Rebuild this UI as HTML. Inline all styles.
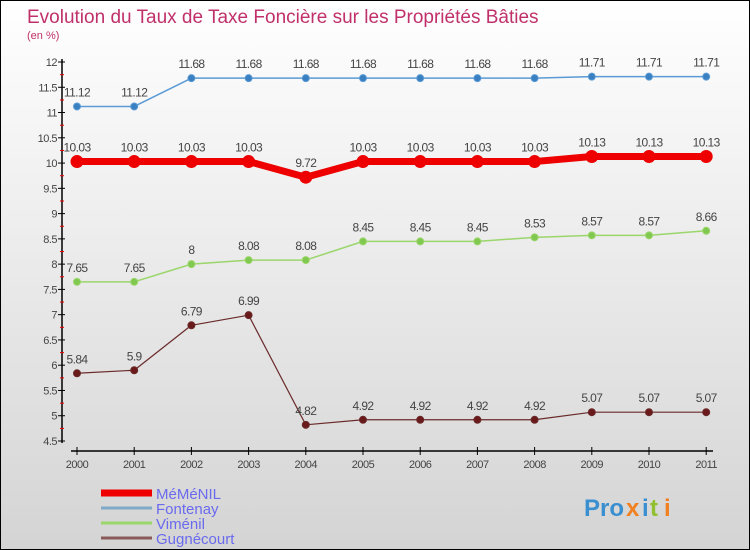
<!DOCTYPE html>
<html><head><meta charset="utf-8"><style>
body{margin:0}
#c{width:748px;height:548px;border:1px solid #000;background:linear-gradient(#fff,#d4d4d4);position:relative;font-family:"Liberation Sans",sans-serif;overflow:hidden}
</style></head><body>
<div id="c">
<svg id="s" width="748" height="548" xmlns="http://www.w3.org/2000/svg">
<text x="26" y="22" font-size="19" fill="#c0306a">Evolution du Taux de Taxe Foncière sur les Propriétés Bâties</text>
<text x="26" y="38" font-size="11" fill="#c0306a">(en %)</text>
<g id="g"></g>
<g font-size="24" font-weight="bold">
<text x="583" y="515" fill="#3a8fd0">Pro</text><text x="625" y="515" fill="#f08020">x</text><text x="641" y="515" fill="#3a8fd0">i</text><text x="649" y="515" fill="#90c030">t</text><text x="663" y="515" fill="#f08020">i</text>
</g>
</svg></div>
<script>
const years=["2000","2001","2002","2003","2004","2005","2006","2007","2008","2009","2010","2011"];
const yTicks=[4.5,5,5.5,6,6.5,7,7.5,8,8.5,9,9.5,10,10.5,11,11.5,12];
const memenil=[10.03,10.03,10.03,10.03,9.72,10.03,10.03,10.03,10.03,10.13,10.13,10.13];
const fontenay=[11.12,11.12,11.68,11.68,11.68,11.68,11.68,11.68,11.68,11.71,11.71,11.71];
const vimenil=[7.65,7.65,8,8.08,8.08,8.45,8.45,8.45,8.53,8.57,8.57,8.66];
const gugnecourt=[5.84,5.9,6.79,6.99,4.82,4.92,4.92,4.92,4.92,5.07,5.07,5.07];
const names=["MéMéNIL","Fontenay","Viménil","Gugnécourt"];
const NS="http://www.w3.org/2000/svg";
const g=document.getElementById('g');
const xs=i=>76+i*57.2;
const ys=v=>61+(12-v)/7.5*379;
function el(t,a,p){const e=document.createElementNS(NS,t);for(const k in a)e.setAttribute(k,a[k]);(p||g).appendChild(e);return e;}
const ax=el('line',{x1:61,y1:58,x2:61,y2:442,stroke:'#000','stroke-width':1.5});


const bx=el('line',{x1:70,y1:450,x2:712,y2:450,stroke:'#000','stroke-width':1.5});


yTicks.forEach((v,k)=>{const y=ys(v);el('line',{x1:57,y1:y,x2:64,y2:y,stroke:'#000'});
if(k<yTicks.length-1)el('line',{x1:59,y1:y-12.6,x2:63,y2:y-12.6,stroke:'#e00'});
const t=el('text',{x:56,y:y+4,'font-size':11,fill:'#444','text-anchor':'end','letter-spacing':'-0.5'});t.textContent=String(v);

});
years.forEach((yr,i)=>{const x=xs(i);el('line',{x1:x,y1:446,x2:x,y2:454,stroke:'#000'});
const t=el('text',{x:x,y:467,'font-size':11,fill:'#444','text-anchor':'middle','letter-spacing':'-0.5'});t.textContent=yr;

});
function series(d,color,w,r,dot,name){
const pl=el('polyline',{points:d.map((v,i)=>xs(i)+','+ys(v)).join(' '),fill:'none',stroke:color,'stroke-width':w,'stroke-linejoin':'round'});


d.forEach((v,i)=>{const c=el('circle',{cx:xs(i),cy:ys(v),r:r,fill:dot,stroke:color,'stroke-width':1});


const t=el('text',{x:xs(i),y:ys(v)-10,'font-size':12,fill:'#444','text-anchor':'middle','letter-spacing':'-0.6'});t.textContent=String(v);

});}
series(fontenay,'#5a9ad6',1.5,3.5,'#3a80c0','fontenay');
series(vimenil,'#9ad66a',1.5,3.5,'#80c850','vimenil');
series(gugnecourt,'#6a2a2a',1.2,3.5,'#6a1a1a','gugnecourt');
series(memenil,'#e00',7,6,'#e00','memenil');
const lc=['#e00','#80aac8','#9ad66a','#8a5a5a'],lw=[7,3,3,3];
names.forEach((n,i)=>{const y=492+i*15;
const l=el('line',{x1:100,y1:y,x2:151,y2:y,stroke:lc[i],'stroke-width':lw[i]});


const t=el('text',{x:155,y:y+6,'font-size':15,fill:'#6a6aee'});t.textContent=n;

});
</script>
</body></html>
